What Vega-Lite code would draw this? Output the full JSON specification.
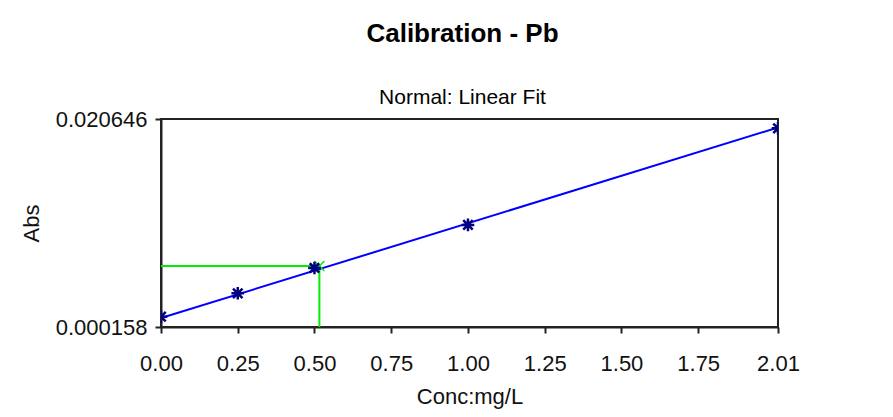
{
  "$schema": "https://vega.github.io/schema/vega-lite/v6.json",
  "autosize": "none",
  "width": 617,
  "height": 208,
  "padding": {"left": 161, "top": 119, "right": 115, "bottom": 90},
  "background": "white",
  "title": {
    "text": "Calibration - Pb",
    "subtitle": "Normal: Linear Fit",
    "anchor": "middle",
    "frame": "group",
    "dx": -7,
    "offset": 0,
    "font": "Liberation Sans",
    "fontSize": 26,
    "fontWeight": "bold",
    "color": "black",
    "subtitleFont": "Liberation Sans",
    "subtitleFontSize": 21,
    "subtitleColor": "black",
    "subtitlePadding": 40
  },
  "config": {
    "view": {"stroke": "#222222", "strokeWidth": 2},
    "axis": {
      "labelFont": "Liberation Sans",
      "labelFontSize": 22,
      "labelColor": "#111111",
      "titleFont": "Liberation Sans",
      "titleFontSize": 22,
      "titleFontWeight": "normal",
      "titleColor": "#111111",
      "domainColor": "#222222",
      "domainWidth": 2,
      "tickColor": "#222222",
      "tickWidth": 2,
      "tickSize": 6,
      "grid": false,
      "labelFlush": false,
      "labelOverlap": false
    }
  },
  "datasets": {
    "standards": [
      {"conc": 0.0, "abs": 0.00117},
      {"conc": 0.25, "abs": 0.00348},
      {"conc": 0.5, "abs": 0.00597},
      {"conc": 1.0, "abs": 0.01021},
      {"conc": 2.01, "abs": 0.01973}
    ],
    "fit": [
      {"conc": 0.0, "abs": 0.00104},
      {"conc": 2.01, "abs": 0.01981}
    ],
    "readout": [
      {"step": 1, "conc": 0.0, "abs": 0.00617},
      {"step": 2, "conc": 0.516, "abs": 0.00617},
      {"step": 3, "conc": 0.516, "abs": 0.000158}
    ],
    "sample": [
      {"conc": 0.516, "abs": 0.00617}
    ]
  },
  "layer": [
    {
      "data": {"name": "readout"},
      "mark": {"type": "line", "color": "#00ee00", "strokeWidth": 2},
      "encoding": {
        "x": {"field": "conc", "type": "quantitative"},
        "y": {"field": "abs", "type": "quantitative"},
        "order": {"field": "step", "type": "quantitative"}
      }
    },
    {
      "data": {"name": "fit"},
      "mark": {"type": "line", "color": "#0000ff", "strokeWidth": 2},
      "encoding": {
        "x": {"field": "conc", "type": "quantitative"},
        "y": {"field": "abs", "type": "quantitative"}
      }
    },
    {
      "data": {"name": "sample"},
      "mark": {"type": "point", "shape": "M-1,-1L1,1M-1,1L1,-1", "color": "#00ee00", "filled": false, "strokeWidth": 1.5, "size": 100, "opacity": 1},
      "encoding": {
        "x": {"field": "conc", "type": "quantitative"},
        "y": {"field": "abs", "type": "quantitative"}
      }
    },
    {
      "data": {"name": "standards"},
      "mark": {"type": "point", "clip": true, "shape": "M-1,0L1,0M0,-1L0,1M-0.75,-0.75L0.75,0.75M-0.75,0.75L0.75,-0.75", "color": "#000080", "filled": false, "strokeWidth": 2.5, "size": 160, "opacity": 1},
      "encoding": {
        "x": {
          "field": "conc",
          "type": "quantitative",
          "scale": {"domain": [0, 2.01], "nice": false, "zero": false},
          "axis": {
            "title": "Conc:mg/L",
            "values": [0, 0.25, 0.5, 0.75, 1, 1.25, 1.5, 1.75, 2.01],
            "format": ".2f",
            "labelPadding": 20,
            "titlePadding": 12
          }
        },
        "y": {
          "field": "abs",
          "type": "quantitative",
          "scale": {"domain": [0.000158, 0.020646], "nice": false, "zero": false},
          "axis": {
            "title": "Abs",
            "values": [0.000158, 0.020646],
            "format": ".6f",
            "labelPadding": 8,
            "titlePadding": 12
          }
        }
      }
    }
  ]
}
